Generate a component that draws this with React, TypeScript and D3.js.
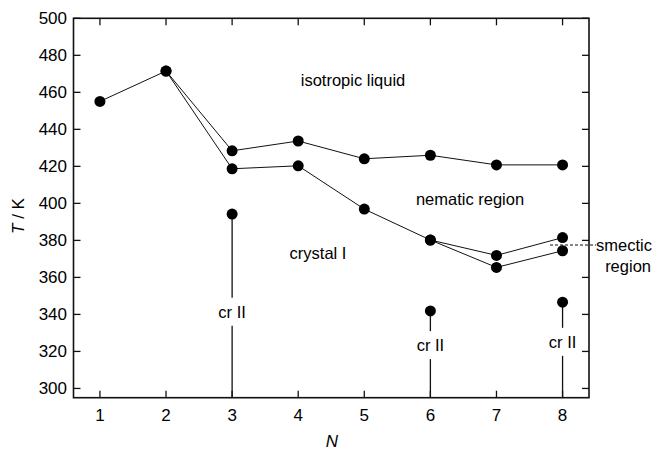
import { useEffect, useRef } from "react";
import * as d3 from "d3";

// phase boundaries
const isoN = [1, 2, 3, 4, 5, 6, 7, 8];
const isoTemps = [455.1, 471.5, 428.4, 433.7, 424.1, 426.0, 420.8, 420.8];
const crystalN = [2, 3, 4, 5, 6, 7, 8];
const crystalTemps = [471.5, 418.7, 420.3, 396.9, 380.2, 365.4, 374.4];
const smecticN = [6, 7, 8];
const smecticTemps = [380.2, 371.9, 381.5];
const crIIN = [3, 6, 8];
const crIITemps = [394.2, 341.9, 346.6];
const crIILabelTemps = [341.4, 323.4, 325.2];
const xTicks = [1, 2, 3, 4, 5, 6, 7, 8];
const yTicks = [300, 320, 340, 360, 380, 400, 420, 440, 460, 480, 500];
const smecticLineT = 377.5;

const App = () => {
    const svgRef = useRef(null);

    useEffect(() => {
        const svg = d3.select(svgRef.current);
        svg.selectAll("*").remove();

        const left = 73.5, right = 589, top = 18.3, bottom = 397.7;
        const x = d3.scaleLinear([0.6, 8.4], [left, right]);
        const y = d3.scaleLinear([295, 500], [bottom, top]);
        const font = "Liberation Sans, Arial, Helvetica, sans-serif";
        const tickLen = 7;
        const labelSize = "16.5px";
        const tickSize = "17px";

        const line = d3.line<[number, number]>()
            .x(d => x(d[0]))
            .y(d => y(d[1]));

        const series = [
            isoN.map((n, i) => [n, isoTemps[i]] as [number, number]),
            crystalN.map((n, i) => [n, crystalTemps[i]] as [number, number]),
            smecticN.map((n, i) => [n, smecticTemps[i]] as [number, number]),
        ];

        series.forEach(s => {
            svg.append("path")
                .attr("d", line(s))
                .attr("fill", "none")
                .attr("stroke", "#111")
                .attr("stroke-width", 1);
        });

        // cr II drop lines with a gap for the label
        const halfGap = 14;
        crIIN.forEach((n, i) => {
            const lx = x(n);
            const ly = y(crIILabelTemps[i]);
            svg.append("line")
                .attr("x1", lx).attr("x2", lx)
                .attr("y1", y(crIITemps[i])).attr("y2", ly - halfGap)
                .attr("stroke", "#111").attr("stroke-width", 1.3);
            svg.append("line")
                .attr("x1", lx).attr("x2", lx)
                .attr("y1", ly + halfGap).attr("y2", bottom)
                .attr("stroke", "#111").attr("stroke-width", 1.3);
            svg.append("text")
                .attr("x", lx).attr("y", ly)
                .attr("dy", "0.35em")
                .attr("text-anchor", "middle")
                .style("font-family", font)
                .style("font-size", labelSize)
                .text("cr II");
        });

        // points
        const allPts = [...series.flat(), ...crIIN.map((n, i) => [n, crIITemps[i]])];
        svg.append("g")
            .selectAll("circle")
            .data(allPts)
            .join("circle")
            .attr("cx", d => x(d[0]))
            .attr("cy", d => y(d[1]))
            .attr("r", 5.5)
            .attr("fill", "#000");

        // frame
        svg.append("rect")
            .attr("x", left).attr("y", top)
            .attr("width", right - left).attr("height", bottom - top)
            .attr("fill", "none")
            .attr("stroke", "#111")
            .attr("stroke-width", 1.6);

        const ticksG = svg.append("g").attr("stroke", "#111").attr("stroke-width", 1.3);
        xTicks.forEach(t => {
            ticksG.append("line").attr("x1", x(t)).attr("x2", x(t)).attr("y1", bottom).attr("y2", bottom - tickLen);
            ticksG.append("line").attr("x1", x(t)).attr("x2", x(t)).attr("y1", top).attr("y2", top + tickLen);
            svg.append("text")
                .attr("x", x(t)).attr("y", 415)
                .attr("dy", "0.35em")
                .attr("text-anchor", "middle")
                .style("font-family", font)
                .style("font-size", tickSize)
                .text(t);
        });
        yTicks.forEach(t => {
            ticksG.append("line").attr("x1", left).attr("x2", left + tickLen).attr("y1", y(t)).attr("y2", y(t));
            ticksG.append("line").attr("x1", right).attr("x2", right - tickLen).attr("y1", y(t)).attr("y2", y(t));
            svg.append("text")
                .attr("x", left - 6.5).attr("y", y(t))
                .attr("dy", "0.35em")
                .attr("text-anchor", "end")
                .style("font-family", font)
                .style("font-size", tickSize)
                .text(t);
        });

        // smectic marker
        svg.append("line")
            .attr("x1", 550).attr("x2", 596)
            .attr("y1", y(smecticLineT)).attr("y2", y(smecticLineT))
            .attr("stroke", "#111")
            .attr("stroke-width", 1.2)
            .attr("stroke-dasharray", "3,2");

        const regionLabels = [
            { text: "isotropic liquid", x: 353, y: 80, anchor: "middle" },
            { text: "nematic region", x: 470, y: 199, anchor: "middle" },
            { text: "crystal I", x: 318, y: 253, anchor: "middle" },
            { text: "smectic", x: 596, y: 245, anchor: "start" },
            { text: "region", x: 651, y: 266, anchor: "end" },
        ];
        regionLabels.forEach(l => {
            svg.append("text")
                .attr("x", l.x).attr("y", l.y)
                .attr("dy", "0.35em")
                .attr("text-anchor", l.anchor)
                .style("font-family", font)
                .style("font-size", labelSize)
                .text(l.text);
        });

        // axis titles
        svg.append("text")
            .attr("x", 332).attr("y", 446.5)
            .attr("text-anchor", "middle")
            .style("font-family", font)
            .style("font-size", "17px")
            .style("font-style", "italic")
            .text("N");

        const yt = svg.append("text")
            .attr("transform", "translate(18, 216) rotate(-90)")
            .attr("text-anchor", "middle")
            .attr("dy", "0.35em")
            .style("font-family", font)
            .style("font-size", "17px");
        yt.append("tspan").style("font-style", "italic").text("T");
        yt.append("tspan").text(" / K");
    }, []);

    return (
        <svg ref={svgRef} width={654} height={451}
            style={{ position: "absolute", left: 0, top: 0, background: "#fff" }} />
    );
};

export default App;
